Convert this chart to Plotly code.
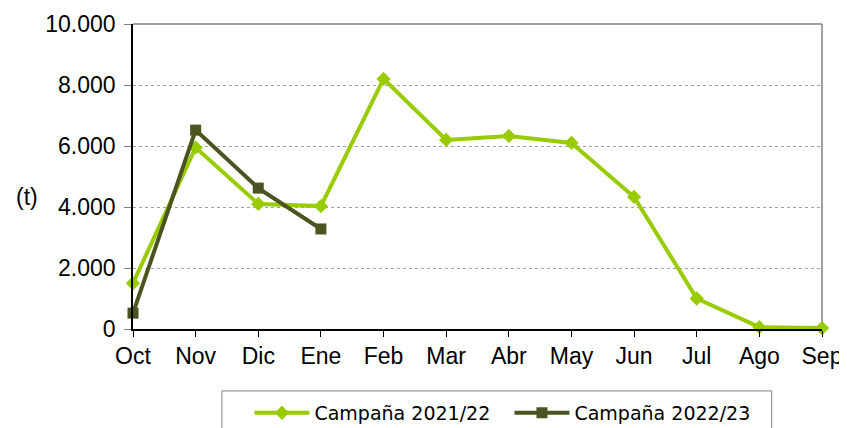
import plotly.graph_objects as go

months = ["Oct", "Nov", "Dic", "Ene", "Feb", "Mar", "Abr", "May", "Jun", "Jul", "Ago", "Sep"]
camp_2021 = [1500, 5950, 4100, 4030, 8200, 6200, 6330, 6100, 4330, 1000, 60, 30]
camp_2022 = [520, 6520, 4620, 3280]
y_ticks = [0, 2000, 4000, 6000, 8000, 10000]
y_tick_text = ["0", "2.000", "4.000", "6.000", "8.000", "10.000"]

x_all = list(range(len(months)))

fig = go.Figure()
fig.add_trace(go.Scatter(
    x=x_all, y=camp_2021, mode="lines+markers", name="Campaña 2021/22",
    line=dict(color="#99CC00", width=4),
    marker=dict(symbol="diamond", size=11, color="#99CC00"),
    cliponaxis=False,
))
fig.add_trace(go.Scatter(
    x=x_all[:len(camp_2022)], y=camp_2022, mode="lines+markers", name="Campaña 2022/23",
    line=dict(color="#4B5320", width=4),
    marker=dict(symbol="square", size=11, color="#4B5320"),
    cliponaxis=False,
))

fig.update_layout(
    width=839, height=420,
    margin=dict(l=125, r=25, t=16, b=99, autoexpand=False),
    paper_bgcolor="white", plot_bgcolor="white",
    font=dict(family="Liberation Sans, Arial, sans-serif", size=23, color="black"),
    showlegend=True,
    legend=dict(
        orientation="h", x=0.169, y=-0.275, xanchor="left", yanchor="middle",
        bgcolor="rgba(0,0,0,0)", borderwidth=0,
        font=dict(family="DejaVu Sans, sans-serif", size=19, color="black"),
        itemwidth=55, entrywidth=190,
    ),
    xaxis=dict(
        range=[0, 11], tickvals=x_all, ticktext=months,
        showgrid=False, showline=True, linecolor="black", linewidth=1.5,
        ticks="outside", ticklen=6, tickcolor="black", zeroline=False,
        ticklabeloverflow="allow",
    ),
    yaxis=dict(
        range=[0, 10000], tickvals=y_ticks, ticktext=y_tick_text,
        showgrid=True, gridcolor="#A0A0A0", griddash="dot", gridwidth=1,
        showline=True, linecolor="black", linewidth=1.5,
        ticks="outside", ticklen=7, tickcolor="#808080", zeroline=False,
        ticklabelstandoff=4, ticklabeloverflow="allow",
    ),
    annotations=[dict(
        text="(t)", xref="paper", yref="paper", x=-0.1538, y=0.433,
        showarrow=False, font=dict(size=23, family="Liberation Sans, Arial, sans-serif"),
        xanchor="center", yanchor="middle",
    )],
    shapes=[
        dict(type="line", xref="paper", yref="paper", x0=0, x1=1, y0=1, y1=1,
             line=dict(color="#808080", width=1.5), layer="below"),
        dict(type="line", xref="paper", yref="paper", x0=1, x1=1, y0=0, y1=1,
             line=dict(color="#808080", width=1.5), layer="below"),
        dict(type="rect", xref="paper", yref="paper", x0=0.129, x1=0.927, y0=-0.203, y1=-0.6,
             line=dict(color="#808080", width=1), fillcolor="rgba(0,0,0,0)"),
    ],
)

fig.write_html("out.html")
